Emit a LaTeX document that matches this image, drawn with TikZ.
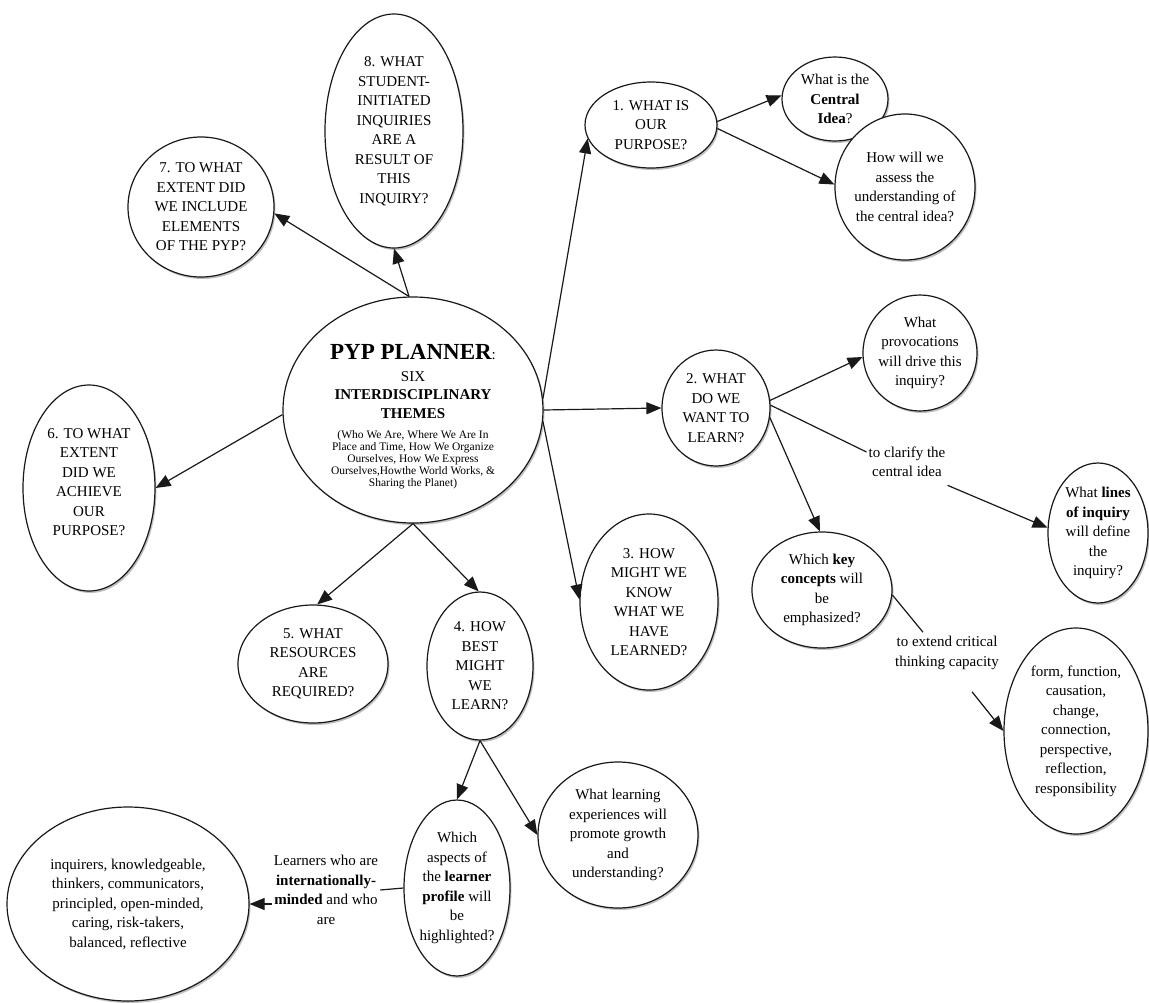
\documentclass[tikz,border=0pt]{standalone}
\usepackage{fontspec}
\setmainfont{Liberation Serif}
\usetikzlibrary{arrows.meta,shapes.geometric,shadows}

\tikzset{
  ell/.style={ellipse, draw=black!90, line width=1.2pt, fill=white, inner sep=0pt,
    drop shadow={shadow xshift=1.5pt,shadow yshift=-2pt,opacity=0.35,fill=black!70}},
  txt/.style={align=center, inner sep=0pt, font=\fontsize{15}{19.5}\selectfont, text=black},
  lbl/.style={align=center, inner sep=2pt, font=\fontsize{15}{19.5}\selectfont, text=black},
  arr/.style={draw=black!90, line width=1.2pt, -{Triangle[length=15pt,width=12pt]}},
  ln/.style={draw=black!90, line width=1.2pt},
}
% \enode[text shift]{name}{x}{y}{width}{height}{text}
\newcommand{\enode}[7][0]{%
  \node[ell,minimum width=#5pt,minimum height=#6pt] (#2) at (#3,#4) {};
  \node[txt] (#2t) at ([yshift=#1pt]#2) {#7};}
\newcommand{\smalltheme}{\fontsize{11.5}{12}\selectfont}

\begin{document}
\begin{tikzpicture}[x=1pt,y=-1pt]
\useasboundingbox (0,0) rectangle (1149,1002);
\fill[white] (0,0) rectangle (1149,1002);

% central node
\node[ell,minimum width=260pt,minimum height=226pt] (C) at (413,410) {};
\node[txt] (Ct) at (413,416.5) {{\fontsize{23}{23}\selectfont\bfseries PYP PLANNER}:\\[3pt]
SIX\\[-1.5pt]
\textbf{INTERDISCIPLINARY}\\[-0.5pt]
\textbf{THEMES}\\[0.5pt]
{\smalltheme (Who We Are, Where We Are In}\\[-7.5pt]
{\smalltheme Place and Time, How We Organize}\\[-7.5pt]
{\smalltheme Ourselves, How We Express}\\[-7.5pt]
{\smalltheme Ourselves,Howthe World Works, \&}\\[-7.5pt]
{\smalltheme Sharing the Planet)}};

\enode{n8}{394}{131}{138}{234}{8. WHAT\\ STUDENT-\\ INITIATED\\ INQUIRIES\\ ARE A\\ RESULT OF\\ THIS\\ INQUIRY?}
\enode{n7}{201}{207}{146}{140}{7. TO WHAT\\ EXTENT DID\\ WE INCLUDE\\ ELEMENTS\\ OF THE PYP?}
\enode[6]{n6}{89}{488}{132}{206}{6. TO WHAT\\ EXTENT\\ DID WE\\ ACHIEVE\\ OUR\\ PURPOSE?}
\enode{n1}{651}{125}{132}{86}{1. WHAT IS\\ OUR\\ PURPOSE?}
\enode{CI}{835}{99}{106}{84}{What is the\\ \textbf{Central}\\ \textbf{Idea}?}
\enode{AS}{905}{187}{140}{146}{How will we\\ assess the\\ understanding of\\ the central idea?}
\enode{n2}{716}{408}{108}{116}{2. WHAT\\ DO WE\\ WANT TO\\ LEARN?}
\enode{PV}{920}{353}{114}{116}{What\\ provocations\\ will drive this\\ inquiry?}
\enode{LI}{1098}{533}{100}{140}{What \textbf{lines}\\ \textbf{of inquiry}\\ will define\\ the\\ inquiry?}
\enode{KC}{822}{590}{140}{116}{Which \textbf{key}\\ \textbf{concepts} will\\ be\\ emphasized?}
\enode{FO}{1076}{731}{144}{206}{form, function,\\ causation,\\ change,\\ connection,\\ perspective,\\ reflection,\\ responsibility}
\enode{n3}{649}{602}{138}{176}{3. HOW\\ MIGHT WE\\ KNOW\\ WHAT WE\\ HAVE\\ LEARNED?}
\enode{n5}{313}{664}{150}{118}{5. WHAT\\ RESOURCES\\ ARE\\ REQUIRED?}
\enode{n4}{480}{666}{106}{148}{4. HOW\\ BEST\\ MIGHT\\ WE\\ LEARN?}
\enode{LP}{457}{888}{106}{176}{Which\\ aspects of\\ the \textbf{learner}\\ \textbf{profile} will\\ be\\ highlighted?}
\enode{LE}{618}{835}{160}{146}{What learning\\ experiences will\\ promote growth\\ and\\ understanding?}
\enode{IN}{128}{904}{242}{194}{inquirers, knowledgeable,\\ thinkers, communicators,\\ principled, open-minded,\\ caring, risk-takers,\\ balanced, reflective}

% edge labels
\node[lbl] (CL) at (907,462) {to clarify the\\ central idea};
\node[lbl] (EX) at (947,653) {to extend critical\\ thinking capacity};
\node[lbl] (LB) at (326,890) {Learners who are\\ \textbf{internationally-}\\ \textbf{minded} and who\\ are};

% connectors
\draw[arr] (C.92) -- (n8.270);
\draw[arr] (C.92) -- (n7.355);
\draw[arr] (C.5) -- (n1.192);
\draw[arr] (C.0) -- (n2.180);
\draw[arr] (C.-5) -- (n3.178);
\draw[arr] (C.182) -- (n6.0);
\draw[arr] (C.270) -- (n5.86);
\draw[arr] (C.270) -- (n4.91);
\draw[arr] (n1.3) -- (CI.176);
\draw[arr] (n1.-3) -- (AS.178);
\draw[arr] (n2.8) -- (PV.184);
\draw[ln] (n2.3) -- ([yshift=10pt]CL.west);
\draw[arr] ([yshift=-6pt]CL.south east) -- (LI.174);
\draw[arr] (n2.-10) -- (KC.92);
\draw[ln] (KC.-4) -- ([xshift=-24pt,yshift=2pt]EX.north);
\draw[arr] ([xshift=25pt,yshift=-20pt]EX.south) -- (FO.180);
\draw[arr] (n4.270) -- (LP.90);
\draw[arr] (n4.270) -- (LE.180);
\draw[ln] (LP.180) -- (LB.east);
\draw[arr] (LB.west |- IN.east) -- (IN.east);
\end{tikzpicture}
\end{document}
